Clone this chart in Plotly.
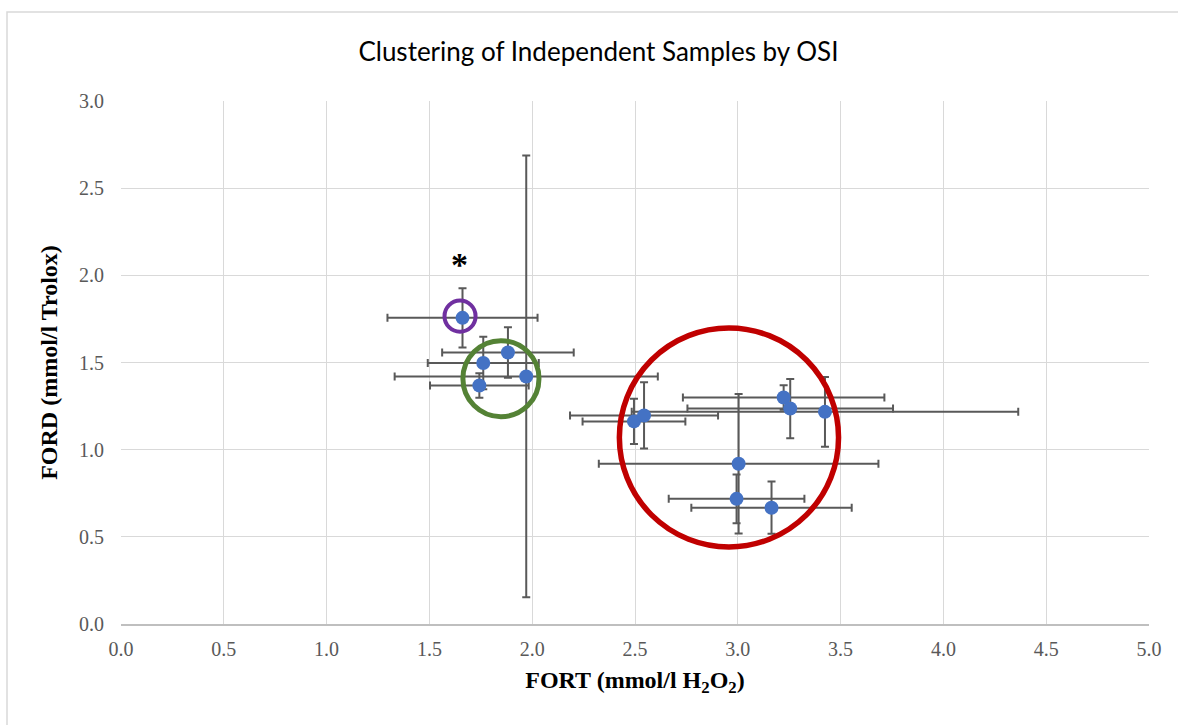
import plotly.graph_objects as go

# Data
fort = [1.661, 1.762, 1.882, 1.743, 1.971, 2.495, 2.544, 3.004, 2.994, 3.164, 3.223, 3.255, 3.424]
ford = [1.756, 1.497, 1.557, 1.368, 1.420, 1.162, 1.196, 0.919, 0.718, 0.667, 1.299, 1.236, 1.217]
fort_err = [0.365, 0.27, 0.32, 0.24, 0.64, 0.25, 0.36, 0.68, 0.33, 0.39, 0.49, 0.50, 0.94]
ford_err = [0.17, 0.15, 0.145, 0.07, 1.267, 0.13, 0.19, 0.40, 0.14, 0.15, 0.07, 0.17, 0.20]

# Cluster outlines: centre x, centre y, half-width x, half-height y, colour, line width
cluster_cx = [1.649, 1.848, 2.957]
cluster_cy = [1.766, 1.407, 1.070]
cluster_rx = [0.0755, 0.185, 0.533]
cluster_ry = [0.089, 0.218, 0.628]
cluster_colors = ["#7030A0", "#548235", "#C00000"]
cluster_widths = [4, 5, 5.5]

star_x, star_y = 1.646, 2.10

x_ticks = [0.0, 0.5, 1.0, 1.5, 2.0, 2.5, 3.0, 3.5, 4.0, 4.5, 5.0]
y_ticks = [0.0, 0.5, 1.0, 1.5, 2.0, 2.5, 3.0]

fig = go.Figure()
fig.add_trace(go.Scatter(
    x=fort, y=ford, mode="markers",
    marker=dict(color="#4472C4", size=14),
    error_x=dict(type="data", array=fort_err, color="#595959", thickness=2, width=4),
    error_y=dict(type="data", array=ford_err, color="#595959", thickness=2, width=4),
    showlegend=False, hoverinfo="x+y",
))

shapes = []
for cx, cy, rx, ry, c, w in zip(cluster_cx, cluster_cy, cluster_rx, cluster_ry, cluster_colors, cluster_widths):
    shapes.append(dict(type="circle", xref="x", yref="y",
                       x0=cx - rx, x1=cx + rx, y0=cy - ry, y1=cy + ry,
                       line=dict(color=c, width=w), layer="above"))
# outer chart border
shapes.append(dict(type="rect", xref="paper", yref="paper",
                   x0=-0.1109, x1=1.2, y0=-0.5, y1=1.170,
                   line=dict(color="#d9d9d9", width=1.5), layer="below"))

fig.update_layout(
    width=1178, height=725,
    margin=dict(l=121, r=29, t=101, b=101),
    paper_bgcolor="white", plot_bgcolor="white",
    title=dict(text="Clustering of Independent Samples by OSI",
               font=dict(family="Lato, Carlito, Calibri, sans-serif", size=26, color="black"),
               x=0.508, xanchor="center", y=0.928, yanchor="middle"),
    shapes=shapes,
    annotations=[dict(x=star_x, y=star_y, xref="x", yref="y", text="<b>*</b>", showarrow=False,
                      font=dict(family="Liberation Serif", size=34, color="black"),
                      yshift=-7)],
    xaxis=dict(range=[0, 5], tickvals=x_ticks, ticktext=[f"{v:.1f}" for v in x_ticks],
               showgrid=True, gridcolor="#d9d9d9", gridwidth=1,
               showline=True, linecolor="#bfbfbf", linewidth=1.5, zeroline=False,
               ticks="outside", ticklen=6, tickcolor="rgba(0,0,0,0)",
               tickfont=dict(family="Liberation Serif", size=20, color="#595959"),
               title=dict(text="<b>FORT (mmol/l H<sub>2</sub>O<sub>2</sub>)</b>", standoff=12,
                          font=dict(family="Liberation Serif", size=24, color="black")),
               automargin=False),
    yaxis=dict(range=[0, 3], tickvals=y_ticks, ticktext=[f"{v:.1f}" for v in y_ticks],
               showgrid=True, gridcolor="#d9d9d9", gridwidth=1,
               showline=False, zeroline=False,
               ticks="outside", ticklen=12, tickcolor="rgba(0,0,0,0)",
               tickfont=dict(family="Liberation Serif", size=20, color="#595959"),
               title=dict(text="<b>FORD (mmol/l Trolox)</b>", standoff=14,
                          font=dict(family="Liberation Serif", size=24, color="black")),
               automargin=False),
)

fig.write_html("out.html")
